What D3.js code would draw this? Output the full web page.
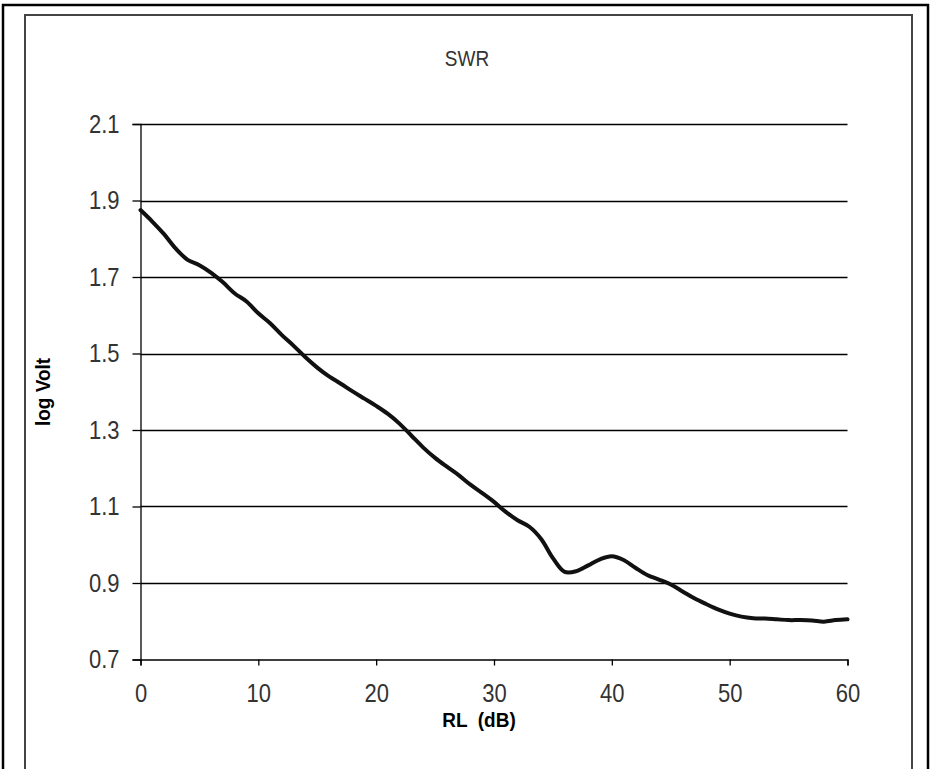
<!DOCTYPE html>
<html>
<head>
<meta charset="utf-8">
<script src="https://cdn.jsdelivr.net/npm/d3@7/dist/d3.min.js"></script>
<style>
  html, body { margin: 0; padding: 0; background: #fff; }
  svg { display: block; }
  text { font-family: "Liberation Sans", Arial, sans-serif; }
</style>
</head>
<body>
<svg id="chart" width="931" height="769"></svg>
<script>
// ---- data ----
const chartTitle = "SWR";
const xTitle = "RL  (dB)";
const yTitle = "log Volt";
const rlValues = [0,1,2,3,4,5,6,7,8,9,10,11,12,13,14,15,16,17,18,19,20,21,22,23,24,25,26,27,28,29,30,31,32,33,34,35,36,37,38,39,40,41,42,43,44,45,46,47,48,49,50,51,52,53,54,55,56,57,58,59,60];
const logVoltValues = [1.875,1.845,1.812,1.774,1.745,1.731,1.711,1.686,1.657,1.636,1.605,1.579,1.548,1.520,1.490,1.463,1.440,1.421,1.401,1.382,1.363,1.342,1.316,1.285,1.254,1.227,1.204,1.182,1.157,1.135,1.112,1.086,1.064,1.047,1.015,0.965,0.929,0.931,0.946,0.962,0.970,0.960,0.940,0.921,0.909,0.896,0.878,0.860,0.845,0.831,0.820,0.812,0.808,0.807,0.805,0.803,0.803,0.802,0.799,0.803,0.805];
const xTicks = [0,10,20,30,40,50,60];
const yTicks = [0.7,0.9,1.1,1.3,1.5,1.7,1.9,2.1];

// ---- layout ----
const svg = d3.select("#chart");
const plot = { left: 140.5, right: 847.5, top: 124, bottom: 659.5 };
const stretch = "scale(1,1.15)";

// borders
svg.append("rect").attr("x", 3).attr("y", 5).attr("width", 925).attr("height", 800)
  .attr("fill", "none").attr("stroke", "#000").attr("stroke-width", 2.5);
svg.append("rect").attr("x", 25).attr("y", 15).attr("width", 887).attr("height", 800)
  .attr("fill", "none").attr("stroke", "#444").attr("stroke-width", 2);

const x = d3.scaleLinear().domain([0, 60]).range([plot.left, plot.right]);
const y = d3.scaleLinear().domain([0.7, 2.1]).range([plot.bottom, plot.top]);

// gridlines
svg.append("g").selectAll("line").data(yTicks.filter(t => t > 0.7)).join("line")
  .attr("x1", plot.left).attr("x2", plot.right)
  .attr("y1", d => Math.round(y(d)) + 0.5).attr("y2", d => Math.round(y(d)) + 0.5)
  .attr("stroke", "#000").attr("stroke-width", 1.3);

// y axis
const yAxis = svg.append("g").attr("transform", `translate(${plot.left},0)`)
  .call(d3.axisLeft(y).tickValues(yTicks).tickFormat(d3.format(".1f")).tickSize(8).tickPadding(13));
yAxis.select(".domain").attr("stroke", "#000").attr("stroke-width", 1.3);
yAxis.selectAll(".tick line").attr("stroke", "#000").attr("stroke-width", 1.3);
yAxis.selectAll(".tick text").attr("font-size", 22).attr("fill", "#333")
  .attr("font-family", "Liberation Sans, Arial, sans-serif").attr("transform", stretch);

// x axis
const xAxis = svg.append("g").attr("transform", `translate(0,${plot.bottom})`)
  .call(d3.axisBottom(x).tickValues(xTicks).tickFormat(d3.format("d")).tickSize(6).tickPadding(15));
xAxis.select(".domain").attr("stroke", "#000").attr("stroke-width", 1.3);
xAxis.selectAll(".tick line").attr("stroke", "#000").attr("stroke-width", 1.3);
xAxis.selectAll(".tick text").attr("font-size", 22).attr("fill", "#333")
  .attr("font-family", "Liberation Sans, Arial, sans-serif").attr("transform", stretch);

// line
const pts = rlValues.map((v, i) => [v, logVoltValues[i]]);
svg.append("path").datum(pts)
  .attr("fill", "none").attr("stroke", "#111").attr("stroke-width", 4)
  .attr("stroke-linejoin", "round").attr("stroke-linecap", "round")
  .attr("d", d3.line().x(d => x(d[0])).y(d => y(d[1])).curve(d3.curveCatmullRom.alpha(0.5)));

// titles
svg.append("text").attr("transform", "translate(467,66) scale(1,1.15)").attr("text-anchor", "middle")
  .attr("font-size", 19).attr("fill", "#333").text(chartTitle);
svg.append("text").attr("transform", "translate(479,727) scale(1,1.1)").attr("text-anchor", "middle")
  .attr("font-size", 19).attr("font-weight", "bold").attr("fill", "#000")
  .attr("xml:space", "preserve").style("white-space", "pre").text(xTitle);
svg.append("text").attr("transform", "translate(50,392) rotate(-90) scale(1,1.1)").attr("text-anchor", "middle")
  .attr("font-size", 19).attr("font-weight", "bold").attr("fill", "#000").text(yTitle);
</script>
</body>
</html>
